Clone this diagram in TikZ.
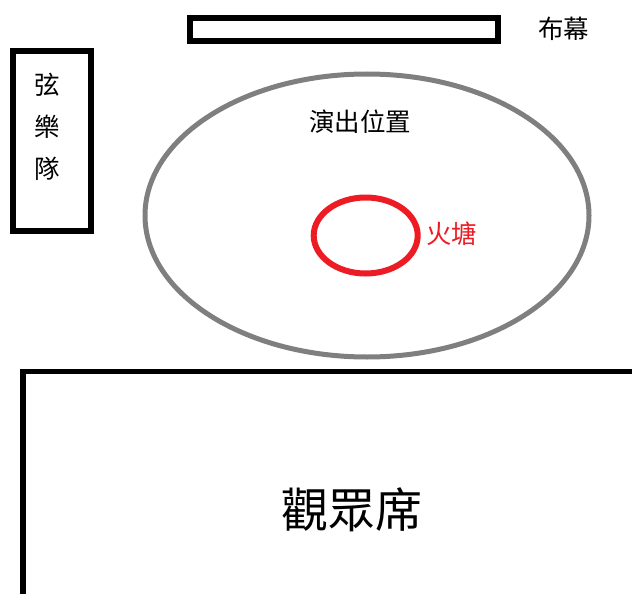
\documentclass[tikz,border=0pt]{standalone}
\usepackage{fontspec}
\setmainfont{Noto Sans CJK TC}
\definecolor{stagegray}{RGB}{127,127,127}
\definecolor{firered}{RGB}{237,28,36}
\tikzset{
  blackbox/.style={draw=black, line width=6pt},
  label24/.style={inner sep=0pt, font=\fontsize{25.5}{29}\selectfont},
}
\begin{document}
\begin{tikzpicture}[x=1pt, y=-1pt]
\useasboundingbox (0,0) rectangle (632,594);
% curtain
\draw[blackbox] (189.5,18.5) rectangle (498,41.5);
\node[label24] (curtain) at (563.5,29) {布幕};
% orchestra
\draw[blackbox] (12.7,51.3) rectangle (90.8,230.5);
\node[label24] (orch1) at (47.5,85) {弦};
\node[label24] (orch2) at (47.5,127) {樂};
\node[label24] (orch3) at (47.5,169) {隊};
% stage
\draw[stagegray, line width=5pt] (367,215.5) ellipse [x radius=222, y radius=141.5];
\node[label24] (stage) at (360,122) {演出位置};
% fire pit
\draw[firered, line width=6pt] (365.7,235.5) ellipse [x radius=52, y radius=38];
\node[label24, text=firered] (fire) at (451.5,234) {火塘};
% audience
\draw[black, line width=5.5pt] (23,594) -- (23,371.3) -- (632,371.3);
\node[inner sep=0pt, font=\fontsize{47}{52}\selectfont] (aud) at (352,510) {觀眾席};
\end{tikzpicture}
\end{document}
